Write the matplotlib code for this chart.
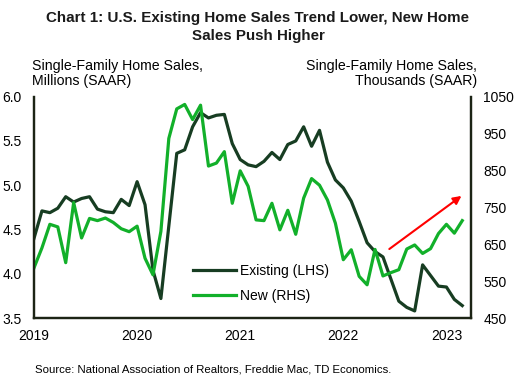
import numpy as np
import matplotlib.pyplot as plt

plt.rcParams['font.family'] = ['Liberation Sans', 'DejaVu Sans']

# Single-family existing home sales, millions SAAR (LHS)
existing = [4.40, 4.71, 4.69, 4.74, 4.87, 4.81, 4.85, 4.87, 4.73, 4.70,
            4.69, 4.84, 4.77, 5.04, 4.78, 4.04, 3.72, 4.54, 5.36, 5.40,
            5.66, 5.82, 5.76, 5.79, 5.80, 5.47, 5.29, 5.23, 5.21, 5.27,
            5.37, 5.29, 5.46, 5.50, 5.66, 5.44, 5.62, 5.26, 5.06, 4.97,
            4.82, 4.59, 4.35, 4.25, 4.19, 3.94, 3.69, 3.62, 3.58, 4.10,
            3.98, 3.86, 3.85, 3.71, 3.64]
# Single-family new home sales, thousands SAAR (RHS)
new = [586, 640, 704, 697, 600, 763, 667, 720, 714, 721,
       709, 692, 684, 699, 612, 567, 685, 937, 1017, 1029,
       988, 1027, 862, 870, 901, 761, 849, 807, 716, 714,
       761, 689, 742, 677, 775, 828, 810, 770, 707, 608,
       635, 563, 540, 636, 564, 573, 581, 637, 648, 625,
       638, 679, 704, 680, 714]
years = ['2019', '2020', '2021', '2022', '2023']
year_pos = [0, 13, 26, 39, 52]
arrow_start = (44.8, 637)
arrow_end = (53.9, 781)

dark = '#173d22'
bright = '#12b02a'
axcol = '#1c2415'

x = np.arange(len(existing))

fig = plt.figure(figsize=(5.16, 3.85), dpi=100)
ax = fig.add_axes([34/516, 1-318/385, (471-34)/516, (318-96.7)/385])
ax2 = ax.twinx()

l1, = ax.plot(x, existing, color=dark, lw=2.3, label='Existing (LHS)')
l2, = ax2.plot(x, new, color=bright, lw=2.3, label='New (RHS)')

ax.set_xlim(0, 55.1)
ax.set_ylim(3.5, 6.0)
ax2.set_ylim(450, 1050)
ax.set_yticks(np.arange(3.5, 6.01, 0.5))
ax.set_yticklabels(['%.1f' % v for v in np.arange(3.5, 6.01, 0.5)])
ax2.set_yticks(np.arange(450, 1051, 100))
ax.set_xticks(year_pos)
ax.set_xticklabels(years)

for a in (ax, ax2):
    a.spines['top'].set_visible(False)
    for s in ('left', 'right', 'bottom'):
        a.spines[s].set_color(axcol)
        a.spines[s].set_linewidth(1.6)
    a.tick_params(length=0, labelsize=10, colors='black')
ax.tick_params(axis='y', pad=9)
ax2.tick_params(axis='y', pad=9)
ax.tick_params(axis='x', pad=8)

ax2.annotate('', xy=arrow_end, xytext=arrow_start,
             arrowprops=dict(arrowstyle='-|>', color='#ff0000', lw=1.5,
                             mutation_scale=12, shrinkA=0, shrinkB=0))

ax2.legend([l1, l2], ['Existing (LHS)', 'New (RHS)'], loc='upper left',
           bbox_to_anchor=(0.335, 0.30), frameon=False, fontsize=10,
           handlelength=3.1, labelspacing=0.75, handletextpad=0.3)

fig.text(0.5, 0.972, 'Chart 1: U.S. Existing Home Sales Trend Lower, New Home\nSales Push Higher',
         ha='center', va='top', fontsize=10.9, fontweight='bold', color='#1a1a1a',
         linespacing=1.4)
fig.text(32/516, 1-59/385, 'Single-Family Home Sales,\nMillions (SAAR)',
         ha='left', va='top', fontsize=10.2, linespacing=1.08)
fig.text(477/516, 1-59/385, 'Single-Family Home Sales,\nThousands (SAAR)',
         ha='right', va='top', fontsize=10.2, linespacing=1.08, multialignment='right')
fig.text(35/516, 1-370/385, 'Source: National Association of Realtors, Freddie Mac, TD Economics.',
         ha='left', va='center', fontsize=8.2)

fig.savefig('out.png', dpi=100)
